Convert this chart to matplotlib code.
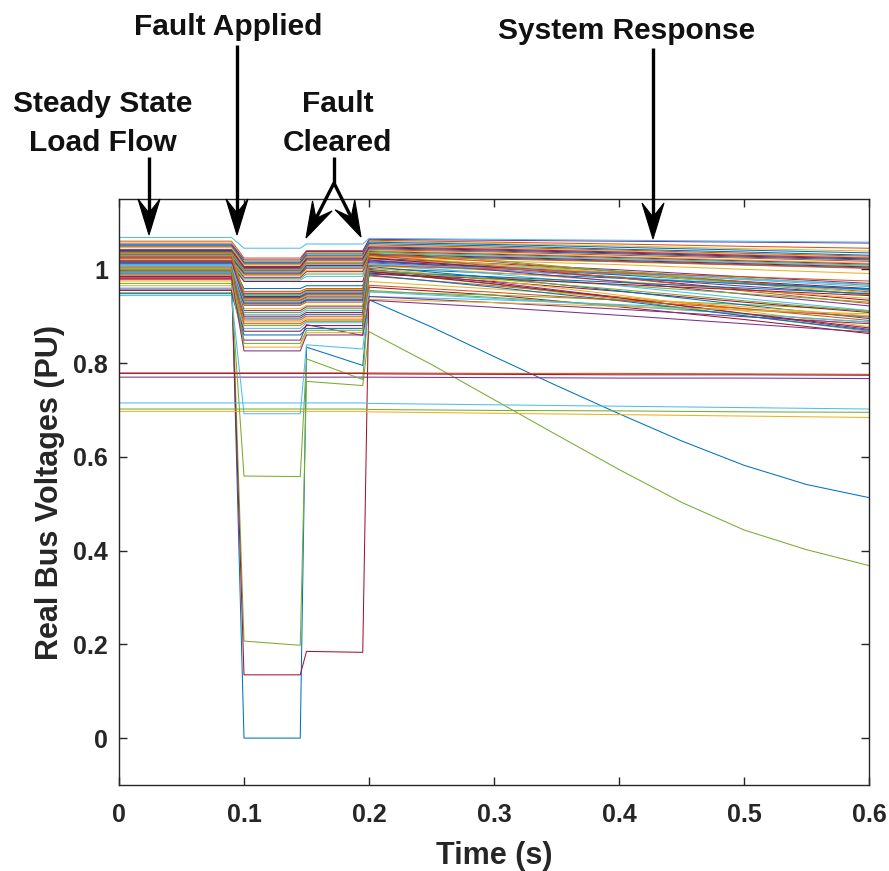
import matplotlib
matplotlib.use("Agg")
import math
import matplotlib.pyplot as plt
from matplotlib.patches import Polygon

plt.rcParams['font.family'] = ['Liberation Sans', 'DejaVu Sans']
plt.rcParams['font.weight'] = 'bold'

W, H = 889, 871

# Simulation time knots: pre-fault, fault on, first clearing, second clearing, post-fault
t_knots = [0.0, 0.09, 0.10, 0.145, 0.15, 0.195, 0.20, 0.30, 0.40, 0.50, 0.60]

# Bus voltage magnitudes (pu) at each stage, one entry per bus
v_pre = [0.995, 1.060, 1.058, 1.054, 1.003, 1.068, 0.980, 1.052, 0.779, 0.697,
         0.770, 0.950, 0.944, 0.778, 1.050, 1.048, 1.046, 1.042, 0.702, 0.715,
         1.040, 1.038, 1.036, 1.034, 1.032, 1.030, 1.028, 1.026, 1.024, 1.020,
         1.018, 1.016, 1.015, 1.012, 1.010, 1.012, 1.028, 1.020, 1.010, 1.034,
         1.005, 1.018, 0.995, 1.024, 1.002, 1.015, 0.990, 1.008, 0.985, 1.000,
         0.978, 1.000, 0.998, 0.995, 1.010, 0.985, 0.992, 1.005, 0.975, 0.958,
         0.970, 0.960, 0.955, 0.948, 0.988, 0.965, 0.982, 1.000]

v_fault_on = [0.000, 1.024, 1.017, 1.020, 0.207, 1.045, 0.135, 1.015, 0.779, 0.697,
              0.770, 0.559, 0.692, 0.778, 1.013, 1.011, 1.009, 1.006, 0.702, 0.715,
              1.004, 1.002, 1.000, 0.998, 0.997, 0.996, 0.994, 0.992, 0.990, 0.988,
              0.987, 0.983, 0.980, 0.977, 0.974, 0.959, 0.953, 0.950, 0.948, 0.946,
              0.944, 0.942, 0.940, 0.938, 0.936, 0.934, 0.932, 0.930, 0.928, 0.926,
              0.923, 0.916, 0.912, 0.908, 0.904, 0.900, 0.896, 0.892, 0.888, 0.849,
              0.880, 0.874, 0.868, 0.860, 0.884, 0.834, 0.826, 0.842]

v_fault_off = [0.000, 1.024, 1.017, 1.020, 0.198, 1.045, 0.135, 1.015, 0.779, 0.697,
               0.770, 0.558, 0.692, 0.778, 1.013, 1.011, 1.009, 1.006, 0.702, 0.715,
               1.004, 1.002, 1.000, 0.998, 0.997, 0.996, 0.994, 0.992, 0.990, 0.988,
               0.987, 0.983, 0.980, 0.977, 0.974, 0.959, 0.953, 0.950, 0.948, 0.946,
               0.944, 0.942, 0.940, 0.938, 0.936, 0.934, 0.932, 0.930, 0.928, 0.926,
               0.923, 0.916, 0.912, 0.908, 0.904, 0.900, 0.896, 0.892, 0.888, 0.849,
               0.880, 0.874, 0.868, 0.860, 0.884, 0.834, 0.826, 0.842]

v_clear_on = [0.834, 1.040, 1.036, 1.038, 0.761, 1.054, 0.185, 1.033, 0.779, 0.697,
              0.770, 0.809, 0.839, 0.778, 1.030, 1.028, 1.026, 1.024, 0.702, 0.715,
              1.022, 1.020, 1.018, 1.015, 1.013, 1.012, 1.010, 1.008, 1.005, 1.002,
              0.998, 0.995, 0.990, 0.985, 0.974, 0.965, 0.959, 0.957, 0.955, 0.953,
              0.951, 0.949, 0.947, 0.945, 0.943, 0.941, 0.939, 0.937, 0.935, 0.933,
              0.930, 0.923, 0.920, 0.916, 0.912, 0.908, 0.904, 0.900, 0.896, 0.882,
              0.889, 0.886, 0.880, 0.874, 0.892, 0.865, 0.860, 0.870]

v_clear_off = [0.795, 1.040, 1.036, 1.038, 0.752, 1.054, 0.183, 1.033, 0.779, 0.697,
               0.770, 0.765, 0.830, 0.778, 1.030, 1.028, 1.026, 1.024, 0.702, 0.715,
               1.022, 1.020, 1.018, 1.015, 1.013, 1.012, 1.010, 1.008, 1.005, 1.002,
               0.998, 0.995, 0.990, 0.985, 0.974, 0.965, 0.959, 0.957, 0.955, 0.953,
               0.951, 0.949, 0.947, 0.945, 0.943, 0.941, 0.939, 0.937, 0.935, 0.933,
               0.930, 0.923, 0.920, 0.916, 0.912, 0.908, 0.904, 0.900, 0.896, 0.859,
               0.889, 0.886, 0.880, 0.874, 0.892, 0.865, 0.860, 0.870]

v_t02 = [0.935, 1.062, 1.060, 1.064, 0.867, 1.066, 0.962, 1.058, 0.779, 0.696,
         0.770, 0.952, 0.942, 0.777, 1.055, 1.052, 1.050, 1.048, 0.701, 0.714,
         1.046, 1.044, 1.042, 1.040, 1.038, 1.036, 1.034, 1.032, 1.030, 1.028,
         1.026, 1.024, 1.022, 1.020, 1.018, 1.016, 1.034, 1.028, 1.014, 1.040,
         1.010, 1.024, 1.002, 1.030, 1.008, 1.020, 0.998, 1.012, 0.992, 1.006,
         0.986, 1.004, 1.000, 0.996, 1.012, 0.990, 0.994, 1.008, 0.974, 0.942,
         0.955, 0.952, 0.996, 0.988, 0.966, 0.936, 0.934, 0.998]

v_t03 = [0.814, 1.058, 1.055, 1.062, 0.722, 1.064, 0.945, 1.053, 0.778, 0.693,
         0.769, 0.945, 0.935, 0.776, 1.050, 1.047, 1.045, 1.043, 0.699, 0.711,
         1.041, 1.039, 1.037, 1.034, 1.032, 1.030, 1.028, 1.026, 1.024, 1.022,
         1.018, 1.012, 1.010, 1.007, 1.005, 1.003, 1.016, 1.011, 0.999, 1.019,
         0.998, 1.004, 0.992, 1.007, 0.993, 0.998, 0.983, 0.990, 0.974, 0.982,
         0.965, 0.976, 0.972, 0.968, 1.002, 0.980, 0.984, 1.001, 0.958, 0.929,
         0.940, 0.938, 0.969, 0.962, 0.951, 0.929, 0.919, 0.979]

v_t04 = [0.692, 1.054, 1.050, 1.060, 0.573, 1.062, 0.920, 1.047, 0.778, 0.690,
         0.768, 0.935, 0.925, 0.775, 1.043, 1.041, 1.039, 1.037, 0.698, 0.708,
         1.035, 1.033, 1.030, 1.027, 1.025, 1.023, 1.021, 1.019, 1.017, 1.016,
         1.010, 0.999, 0.996, 0.993, 0.990, 0.988, 0.995, 0.991, 0.983, 0.995,
         0.984, 0.982, 0.981, 0.982, 0.975, 0.974, 0.966, 0.965, 0.953, 0.954,
         0.941, 0.945, 0.940, 0.936, 0.991, 0.968, 0.972, 0.992, 0.940, 0.915,
         0.923, 0.922, 0.939, 0.933, 0.934, 0.921, 0.902, 0.957]

v_t05 = [0.582, 1.049, 1.044, 1.058, 0.444, 1.060, 0.893, 1.041, 0.777, 0.687,
         0.768, 0.925, 0.913, 0.775, 1.037, 1.034, 1.032, 1.030, 0.696, 0.705,
         1.028, 1.026, 1.024, 1.020, 1.018, 1.016, 1.014, 1.012, 1.010, 1.009,
         1.000, 0.984, 0.981, 0.978, 0.974, 0.972, 0.973, 0.970, 0.964, 0.970,
         0.969, 0.957, 0.969, 0.954, 0.956, 0.947, 0.948, 0.938, 0.930, 0.924,
         0.916, 0.911, 0.905, 0.901, 0.979, 0.956, 0.960, 0.984, 0.920, 0.899,
         0.905, 0.905, 0.906, 0.901, 0.916, 0.913, 0.884, 0.933]

v_t06 = [0.513, 1.045, 1.039, 1.056, 0.368, 1.058, 0.863, 1.035, 0.776, 0.684,
         0.767, 0.912, 0.900, 0.774, 1.030, 1.028, 1.026, 1.024, 0.695, 0.702,
         1.022, 1.020, 1.017, 1.013, 1.011, 1.009, 1.007, 1.005, 1.003, 1.002,
         0.991, 0.970, 0.966, 0.963, 0.959, 0.956, 0.952, 0.950, 0.947, 0.945,
         0.955, 0.934, 0.958, 0.927, 0.938, 0.922, 0.930, 0.912, 0.908, 0.895,
         0.891, 0.878, 0.872, 0.868, 0.968, 0.944, 0.948, 0.975, 0.901, 0.884,
         0.887, 0.888, 0.875, 0.870, 0.898, 0.905, 0.866, 0.910]

# Finer post-fault samples for the two buses that collapse after clearing
tail_t = [0.20, 0.25, 0.30, 0.35, 0.40, 0.45, 0.50, 0.55, 0.60]
tail_bus1 = [0.935, 0.877, 0.814, 0.752, 0.692, 0.634, 0.582, 0.541, 0.513]
tail_bus5 = [0.867, 0.797, 0.722, 0.647, 0.573, 0.503, 0.444, 0.402, 0.368]
slow_tails = {0: tail_bus1, 4: tail_bus5}

x_ticks = [0, 0.1, 0.2, 0.3, 0.4, 0.5, 0.6]
x_tick_labels = ['0', '0.1', '0.2', '0.3', '0.4', '0.5', '0.6']
y_ticks = [0, 0.2, 0.4, 0.6, 0.8, 1.0]
y_tick_labels = ['0', '0.2', '0.4', '0.6', '0.8', '1']

line_colors = ['#0072BD', '#D95319', '#EDB120', '#7E2F8E',
               '#77AC30', '#4DBEEE', '#A2142F']

fig = plt.figure(figsize=(W / 100, H / 100), dpi=100)
ax = fig.add_axes([119 / W, (H - 785) / H, 750 / W, 586 / H])

stages = [v_pre, v_pre, v_fault_on, v_fault_off, v_clear_on, v_clear_off,
          v_t02, v_t03, v_t04, v_t05, v_t06]
for i in range(len(v_pre)):
    xs = list(t_knots)
    ys = [s[i] for s in stages]
    if i in slow_tails:
        xs = xs[:6] + tail_t
        ys = ys[:6] + slow_tails[i]
    ax.plot(xs, ys, color=line_colors[i % len(line_colors)], lw=0.75)

ax.set_xlim(0, 0.6)
ax.set_ylim(-0.1, 1.15)
ax.set_xticks(x_ticks)
ax.set_xticklabels(x_tick_labels)
ax.set_yticks(y_ticks)
ax.set_yticklabels(y_tick_labels)
ax.tick_params(direction='in', length=6, width=1, colors='#262626',
               labelsize=18, top=True, right=True)
ax.tick_params(axis='x', pad=13)
ax.tick_params(axis='y', pad=8)
for lab in ax.get_xticklabels() + ax.get_yticklabels():
    lab.set_fontweight('bold')
    lab.set_color('#262626')
for sp in ax.spines.values():
    sp.set_color('#262626')
    sp.set_linewidth(1.0)
ax.set_xlabel('Time (s)', fontsize=22, fontweight='bold', color='#262626')
ax.set_ylabel('Real Bus Voltages (PU)', fontsize=22, fontweight='bold',
              color='#262626')
ax.xaxis.set_label_coords(0.5, -0.095)
ax.yaxis.set_label_coords(-0.072, 0.5)

# Overlay in pixel coordinates for the annotations
ov = fig.add_axes([0, 0, 1, 1], zorder=5)
ov.set_xlim(0, W)
ov.set_ylim(H, 0)
ov.axis('off')
ov.patch.set_alpha(0)


def arrow(x0, y0, x1, y1, head_len=36, head_w=22, notch=22, lw=2.4):
    dx, dy = x1 - x0, y1 - y0
    L = math.hypot(dx, dy)
    ux, uy = dx / L, dy / L
    px, py = -uy, ux
    ov.plot([x0, x1 - ux * notch], [y0, y1 - uy * notch], color='k', lw=lw,
            solid_capstyle='butt')
    bx, by = x1 - ux * head_len, y1 - uy * head_len
    pts = [(x1, y1),
           (bx + px * head_w / 2, by + py * head_w / 2),
           (x1 - ux * notch, y1 - uy * notch),
           (bx - px * head_w / 2, by - py * head_w / 2)]
    ov.add_patch(Polygon(pts, closed=True, facecolor='k', edgecolor='k', lw=0.8))


def label(x, y, s):
    ov.text(x, y, s, ha='center', va='baseline', fontsize=21.5,
            fontweight='bold', color='#111111')


label(103, 112, 'Steady State')
label(103, 151, 'Load Flow')
label(228, 35, 'Fault Applied')
label(338, 112, 'Fault')
label(337, 151, 'Cleared')
label(627, 39, 'System Response')

arrow(149, 157, 149, 235)
arrow(237, 45, 237, 235)
ov.plot([334, 334], [157, 183], color='k', lw=2.4, solid_capstyle='butt')
arrow(334, 183, 306, 238)
arrow(334, 183, 361, 237)
arrow(653, 48, 653, 239)

fig.savefig('out.png', dpi=100)
